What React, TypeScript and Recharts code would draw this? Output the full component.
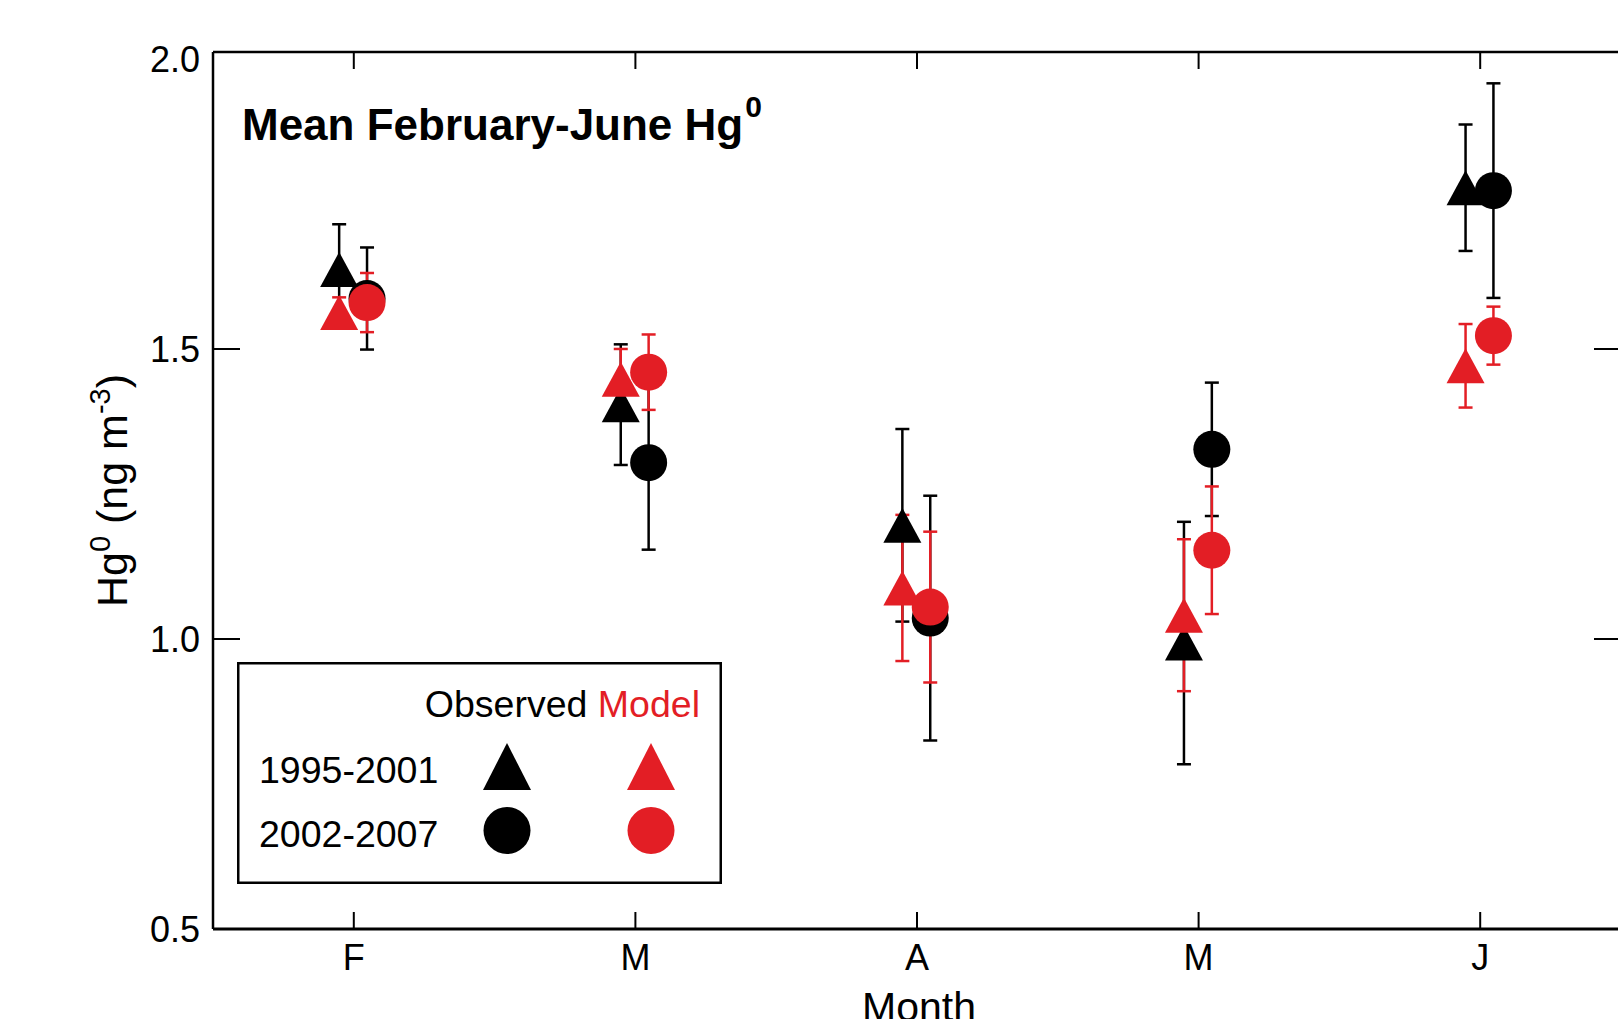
import React from 'react';
import { ScatterChart, Scatter, XAxis, YAxis, ErrorBar, ReferenceLine, Legend } from 'recharts';

const FONT = '"Liberation Sans", Arial, Helvetica, sans-serif';
const RED = '#e31e25';
const BLACK = '#000000';

// months on the x axis (numeric positions 1..5)
const MONTHS = ['F', 'M', 'A', 'M', 'J'];
const MONTH_POS = [1, 2, 3, 4, 5];
const Y_TICKS = [0.5, 1.0, 1.5, 2.0];

// observed, 1995-2001 (triangles) and 2002-2007 (circles)
const OBS_9501 = [1.637, 1.404, 1.196, 0.993, 1.778];
const OBS_9501_ERR = [0.078, 0.104, 0.166, 0.209, 0.109];
const OBS_0207 = [1.587, 1.304, 1.036, 1.327, 1.773];
const OBS_0207_ERR = [0.088, 0.15, 0.211, 0.115, 0.185];

// model
const MOD_9501 = [1.563, 1.448, 1.088, 1.041, 1.471];
const MOD_9501_ERR = [0.026, 0.052, 0.126, 0.131, 0.072];
const MOD_0207 = [1.58, 1.46, 1.055, 1.153, 1.523];
const MOD_0207_ERR = [0.051, 0.065, 0.13, 0.11, 0.05];

const PERIODS = ['1995-2001', '2002-2007'];

// layout
const CHART_W = 1640;
const CHART_H = 1019;
const PLOT_TOP = 52;
const PLOT_RIGHT = 1621;
const Y_MAX = 2.012;
const TRI_SHIFT = -0.052;
const DOT_SHIFT = 0.047;

type Pt = { x: number; y: number; err: number };

const toPoints = (vals: number[], errs: number[], shift: number): Pt[] =>
  vals.map((y, i) => ({ x: MONTH_POS[i] + shift, y, err: errs[i] }));

const SERIES = [
  { key: 'obs9501', data: toPoints(OBS_9501, OBS_9501_ERR, TRI_SHIFT), color: BLACK, marker: 'triangle' },
  { key: 'obs0207', data: toPoints(OBS_0207, OBS_0207_ERR, DOT_SHIFT), color: BLACK, marker: 'circle' },
  { key: 'mod9501', data: toPoints(MOD_9501, MOD_9501_ERR, TRI_SHIFT), color: RED, marker: 'triangle' },
  { key: 'mod0207', data: toPoints(MOD_0207, MOD_0207_ERR, DOT_SHIFT), color: RED, marker: 'circle' },
];

const Triangle = ({ cx, cy, fill, w = 38, h = 35 }: any) => (
  <polygon
    points={`${cx},${cy - h / 2} ${cx - w / 2},${cy + h / 2} ${cx + w / 2},${cy + h / 2}`}
    fill={fill}
  />
);

const Dot = ({ cx, cy, fill, r = 18.5 }: any) => <circle cx={cx} cy={cy} r={r} fill={fill} />;

const NoMarker = () => <g />;

const MonthTick = ({ x, y, payload }: any) => (
  <g>
    <line x1={x} x2={x} y1={y} y2={y - 17} stroke={BLACK} strokeWidth={2} />
    <line x1={x} x2={x} y1={PLOT_TOP} y2={PLOT_TOP + 17} stroke={BLACK} strokeWidth={2} />
    <text x={x} y={y + 41} textAnchor="middle" fontSize={36} fontFamily={FONT} fill={BLACK}>
      {MONTHS[Math.round(payload.value) - 1]}
    </text>
  </g>
);

const ValueTick = ({ x, y, payload }: any) => {
  const v = payload.value as number;
  const edge = v === Y_TICKS[0] || v === Y_TICKS[Y_TICKS.length - 1];
  return (
    <g>
      {!edge && <line x1={x} x2={x + 27} y1={y} y2={y} stroke={BLACK} strokeWidth={2} />}
      {!edge && <line x1={PLOT_RIGHT - 27} x2={PLOT_RIGHT} y1={y} y2={y} stroke={BLACK} strokeWidth={2} />}
      <text x={x - 13} y={y + 13} textAnchor="end" fontSize={36} fontFamily={FONT} fill={BLACK}>
        {v.toFixed(1)}
      </text>
    </g>
  );
};

const YTitle = ({ viewBox }: any) => {
  const cy = viewBox ? viewBox.y + viewBox.height / 2 : 491;
  return (
    <text
      transform={`translate(127, ${cy}) rotate(-90)`}
      textAnchor="middle"
      fontSize={43}
      fontFamily={FONT}
      fill={BLACK}
    >
      <tspan>Hg</tspan>
      <tspan dy={-17} fontSize={29}>0</tspan>
      <tspan dy={17}> (ng m</tspan>
      <tspan dy={-17} fontSize={29}>-3</tspan>
      <tspan dy={17}>)</tspan>
    </text>
  );
};

const MonthTitle = ({ viewBox }: any) => {
  const cx = viewBox ? viewBox.x + viewBox.width / 2 : 917;
  const y = viewBox ? viewBox.y : 929;
  return (
    <text x={cx + 2} y={y + 92} textAnchor="middle" fontSize={41} fontFamily={FONT} fill={BLACK}>
      Month
    </text>
  );
};

const ChartTitle = ({ viewBox }: any) => {
  const x = viewBox ? viewBox.x : 213;
  const y = viewBox ? viewBox.y : PLOT_TOP;
  return (
    <text x={x + 29} y={y + 88} fontSize={44} fontWeight="bold" fontFamily={FONT} fill={BLACK}>
      <tspan>Mean February-June Hg</tspan>
      <tspan dx={2} dy={-23} fontSize={30}>0</tspan>
    </text>
  );
};

const LegendBox = () => (
  <svg width={485} height={222} style={{ display: 'block' }}>
    <rect x={1.25} y={1.25} width={482.5} height={219.5} fill="#fff" stroke={BLACK} strokeWidth={2.5} />
    <text x={463} y={55} textAnchor="end" fontSize={37.5} fontFamily={FONT} fill={BLACK}>
      Observed{' '}
      <tspan fill={RED}>Model</tspan>
    </text>
    {PERIODS.map((p, i) => {
      const base = i === 0 ? 121 : 185;
      const my = i === 0 ? 104.5 : 168.5;
      return (
        <g key={p}>
          <text x={22} y={base} fontSize={37.5} fontFamily={FONT} fill={BLACK}>
            {p}
          </text>
          {i === 0 ? (
            <>
              <Triangle cx={270} cy={my} fill={BLACK} w={48} h={47} />
              <Triangle cx={414} cy={my} fill={RED} w={48} h={47} />
            </>
          ) : (
            <>
              <Dot cx={270} cy={my} fill={BLACK} r={23.5} />
              <Dot cx={414} cy={my} fill={RED} r={23.5} />
            </>
          )}
        </g>
      );
    })}
  </svg>
);

export default function App() {
  return (
    <div
      style={{
        position: 'absolute',
        left: 0,
        top: 0,
        width: 1618,
        height: 1019,
        overflow: 'hidden',
        background: '#fff',
      }}
    >
      <ScatterChart width={CHART_W} height={CHART_H} margin={{ top: PLOT_TOP, right: CHART_W - PLOT_RIGHT, bottom: 0, left: 0 }}>
        <XAxis
          type="number"
          dataKey="x"
          domain={[0.5, 5.5]}
          ticks={MONTH_POS}
          interval={0}
          allowDataOverflow
          height={90}
          tickSize={0}
          tickMargin={0}
          tickLine={false}
          axisLine={{ stroke: BLACK, strokeWidth: 3 }}
          tick={<MonthTick />}
          label={<MonthTitle />}
        />
        <YAxis
          type="number"
          dataKey="y"
          domain={[0.5, Y_MAX]}
          ticks={Y_TICKS}
          interval={0}
          allowDataOverflow
          width={213}
          tickSize={0}
          tickMargin={0}
          tickLine={false}
          axisLine={{ stroke: BLACK, strokeWidth: 2.5 }}
          tick={<ValueTick />}
          label={<YTitle />}
        />
        <ReferenceLine y={Y_MAX} stroke={BLACK} strokeWidth={2.5} label={<ChartTitle />} />
        {SERIES.map((s) => (
          <Scatter
            key={`${s.key}-err`}
            data={s.data}
            dataKey="y"
            fill={s.color}
            shape={NoMarker}
            isAnimationActive={false}
          >
            <ErrorBar dataKey="err" direction="y" width={7} stroke={s.color} strokeWidth={2.5} isAnimationActive={false} />
          </Scatter>
        ))}
        {SERIES.map((s) => (
          <Scatter
            key={s.key}
            data={s.data}
            dataKey="y"
            fill={s.color}
            shape={(p: any) => (s.marker === 'triangle' ? <Triangle {...p} fill={s.color} /> : <Dot {...p} fill={s.color} />)}
            isAnimationActive={false}
          />
        ))}
        <Legend
          layout="vertical"
          align="center"
          verticalAlign="middle"
          wrapperStyle={{ left: 237, top: 662, width: 485, height: 222 }}
          content={<LegendBox />}
        />
      </ScatterChart>
    </div>
  );
}
